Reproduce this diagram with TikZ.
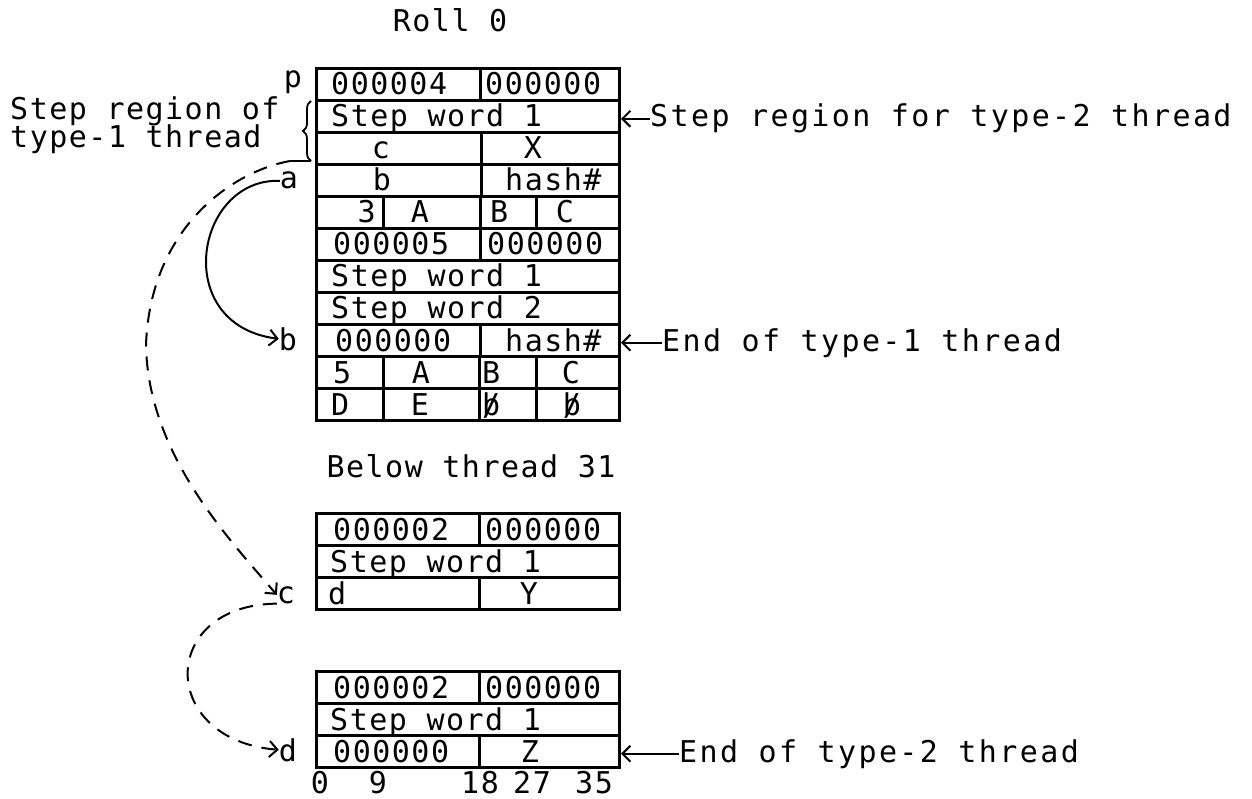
\documentclass[tikz,border=0pt]{standalone}
\usepackage{fontspec}
\newfontfamily\twf[LetterSpace=5]{DejaVu Sans Mono}
\newfontfamily\twr[LetterSpace=8]{DejaVu Sans Mono}
\usetikzlibrary{arrows.meta,decorations.pathreplacing}
\newcommand\mkrect[5]{\pgfmathsetmacro\cellw{#3-#2}\node[cellbox,minimum width=\cellw pt,minimum height=#5pt] (#1) at (#2,#4) {};}
\newcommand\mktxt[5]{\node[txt,anchor=#4] (#1) at (#2,#3) {#5};}
\newcommand\blank{\rlap{/}b}
\begin{document}
\begin{tikzpicture}[x=1pt,y=-1pt,
  cellbox/.style={draw,line width=3pt,inner sep=0pt,anchor=north west},
  txt/.style={inner sep=0pt,font=\twf\fontsize{30}{36}\selectfont},
  rtxt/.style={inner sep=0pt,font=\twr\fontsize{30}{36}\selectfont,anchor=base west},
  arr/.style={line width=2pt,-{Straight Barb[length=8pt,width=16pt]}},
  dsh/.style={arr,dash pattern=on 14pt off 10pt}]
\fill[white] (0,0) rectangle (1252,799);
\useasboundingbox (0,0) rectangle (1252,799);

% ---- titles
\mktxt{roll}{450}{32}{base}{Roll 0}
\mktxt{below}{471}{477}{base}{Below thread 31}

% ---- top table (Roll 0)
\mkrect{t0a}{315}{479}{67}{32}  \mkrect{t0b}{479}{618}{67}{32}
\mktxt{x0a}{331}{95}{base west}{000004}  \mktxt{x0b}{485}{95}{base west}{000000}
\mkrect{t1}{315}{618}{99}{32}
\mktxt{x1}{331}{127}{base west}{Step word 1}
\mkrect{t2a}{315}{480}{131}{32} \mkrect{t2b}{480}{618}{131}{32}
\mktxt{x2a}{381}{159}{base}{c} \mktxt{x2b}{533}{159}{base}{X}
\mkrect{t3a}{315}{480}{163}{32} \mkrect{t3b}{480}{618}{163}{32}
\mktxt{x3a}{382}{191}{base}{b} \mktxt{x3b}{505}{191}{base west}{hash\#}
\mkrect{t4a}{315}{382}{195}{32} \mkrect{t4b}{382}{479}{195}{32}
\mkrect{t4c}{479}{535}{195}{32} \mkrect{t4d}{535}{618}{195}{32}
\mktxt{x4a}{376}{223}{base east}{3} \mktxt{x4b}{420}{223}{base}{A}
\mktxt{x4c}{490}{223}{base west}{B} \mktxt{x4d}{565}{223}{base}{C}
\mkrect{t5a}{315}{479}{227}{32} \mkrect{t5b}{479}{618}{227}{32}
\mktxt{x5a}{333}{255}{base west}{000005} \mktxt{x5b}{487}{255}{base west}{000000}
\mkrect{t6}{315}{618}{259}{32}
\mktxt{x6}{331}{287}{base west}{Step word 1}
\mkrect{t7}{315}{618}{291}{32}
\mktxt{x7}{331}{319}{base west}{Step word 2}
\mkrect{t8a}{315}{479}{323}{32} \mkrect{t8b}{479}{618}{323}{32}
\mktxt{x8a}{335}{351}{base west}{000000} \mktxt{x8b}{505}{351}{base west}{hash\#}
\mkrect{t9a}{315}{382}{355}{32} \mkrect{t9b}{382}{478}{355}{32}
\mkrect{t9c}{478}{535}{355}{32} \mkrect{t9d}{535}{618}{355}{32}
\mktxt{x9a}{333}{383}{base west}{5} \mktxt{x9b}{421}{383}{base}{A}
\mktxt{x9c}{482}{383}{base west}{B} \mktxt{x9d}{571}{383}{base}{C}
\mkrect{t10a}{315}{382}{387}{32} \mkrect{t10b}{382}{478}{387}{32}
\mkrect{t10c}{478}{535}{387}{32} \mkrect{t10d}{535}{618}{387}{32}
\mktxt{x10a}{331}{415}{base west}{D} \mktxt{x10b}{420}{415}{base}{E}
\mktxt{x10c}{482}{415}{base west}{\blank} \mktxt{x10d}{572}{415}{base}{\blank}

% ---- middle table (below thread 31)
\mkrect{m0a}{315}{478}{512}{32} \mkrect{m0b}{478}{618}{512}{32}
\mktxt{y0a}{333}{540}{base west}{000002} \mktxt{y0b}{485}{540}{base west}{000000}
\mkrect{m1}{315}{618}{544}{32}
\mktxt{y1}{330}{572}{base west}{Step word 1}
\mkrect{m2a}{315}{478}{576}{32} \mkrect{m2b}{478}{618}{576}{32}
\mktxt{y2a}{328}{604}{base west}{d} \mktxt{y2b}{529}{604}{base}{Y}

% ---- bottom table
\mkrect{b0a}{315}{478}{670}{32} \mkrect{b0b}{478}{618}{670}{32}
\mktxt{z0a}{333}{698}{base west}{000002} \mktxt{z0b}{485}{698}{base west}{000000}
\mkrect{b1}{315}{618}{702}{32}
\mktxt{z1}{330}{730}{base west}{Step word 1}
\mkrect{b2a}{315}{478}{734}{32} \mkrect{b2b}{478}{618}{734}{32}
\mktxt{z2a}{333}{762}{base west}{000000} \mktxt{z2b}{530}{762}{base}{Z}

% ---- bit numbers
\mktxt{n0}{320}{793}{base}{0}
\mktxt{n9}{378}{793}{base}{9}
\mktxt{n18}{480}{793}{base}{18}
\mktxt{n27}{532}{793}{base}{27}
\mktxt{n35}{594}{793}{base}{35}

% ---- pointer labels
\mktxt{lp}{293}{88}{base}{p}
\mktxt{la}{289}{189}{base}{a}
\mktxt{lb}{288}{350}{base}{b}
\mktxt{lc}{286}{603}{base}{c}
\mktxt{ld}{288}{761}{base}{d}

% ---- left annotation with brace
\mktxt{sl1}{10}{120}{base west}{Step region of}
\mktxt{sl2}{10}{148}{base west}{type-1 thread}
\coordinate (bt) at (311,101);
\coordinate (bb) at (311,161);
\draw[line width=1.8pt,decorate,decoration={brace,amplitude=8pt}] (bb) -- (bt);
\coordinate (bs) at (290,161);
\draw[line width=1.8pt] (bb) -- (bs);

% ---- right annotations
\node[rtxt] (r1) at (650,127) {Step region for type-2 thread};
\draw[arr] (r1.west) -- (r1.west -| t1.east);
\node[rtxt] (r2) at (662,351) {End of type-1 thread};
\draw[arr] (r2.west) -- (r2.west -| t8b.east);
\node[rtxt] (r3) at (679,762) {End of type-2 thread};
\draw[arr] (r3.west) -- (r3.west -| b2b.east);

% ---- connectors
\draw[arr] (la.west) .. controls (195,178) and (170,325) .. (lb.west);
\draw[dsh] (bs) .. controls (230,172) and (150,230) .. (146,345)
               .. controls (148,455) and (230,540) .. (lc.west);
\draw[dsh] (lc.south west) .. controls (158,605) and (158,740) .. (ld.west);
\end{tikzpicture}
\end{document}
